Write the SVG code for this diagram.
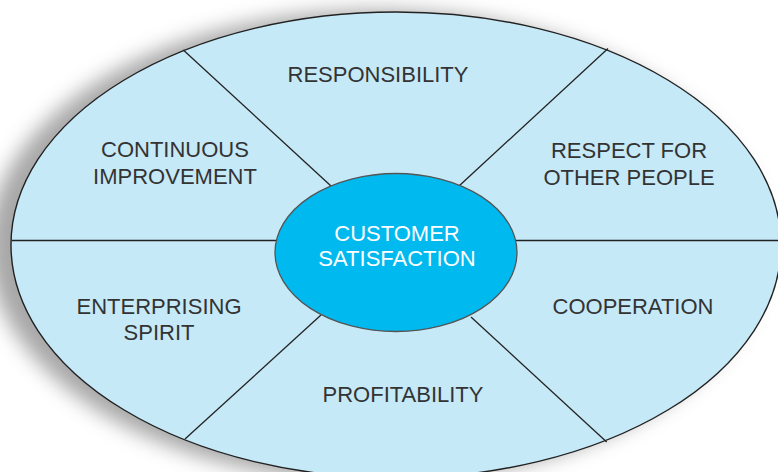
<svg xmlns="http://www.w3.org/2000/svg" width="778" height="472" viewBox="0 0 778 472">
  <defs>
    <filter id="shadow" x="-20%" y="-20%" width="140%" height="140%">
      <feGaussianBlur stdDeviation="10"/>
    </filter>
    <style>
      .lbl { font-family: "Liberation Sans", Arial, sans-serif; font-size: 22px; fill: #333333; text-anchor: middle; }
      .center { font-family: "Liberation Sans", Arial, sans-serif; font-size: 22px; fill: #ffffff; text-anchor: middle; }
      .conn { stroke: #222222; stroke-width: 1.3; fill: none; }
    </style>
  </defs>
  <rect x="0" y="0" width="778" height="472" fill="#ffffff"/>
  <g id="background">
    <ellipse cx="376" cy="246" rx="388" ry="236" fill="#8a8a8a" opacity="0.75" filter="url(#shadow)"/>
    <ellipse cx="396" cy="245" rx="385" ry="233" fill="#c6e9f8" stroke="#222222" stroke-width="1.4"/>
  </g>
  <g id="connectors">
    <line class="conn" x1="12" y1="240.5" x2="277" y2="240.5"/>
    <line class="conn" x1="516" y1="240.5" x2="778" y2="240.5"/>
    <line class="conn" x1="183.3" y1="50" x2="331" y2="186"/>
    <line class="conn" x1="608" y1="48.5" x2="459" y2="186"/>
    <line class="conn" x1="185" y1="439" x2="321" y2="315"/>
    <line class="conn" x1="606.7" y1="442" x2="471" y2="317"/>
  </g>
  <g id="customer-satisfaction">
    <ellipse cx="396" cy="252.5" rx="121" ry="79" fill="#00b9ef" stroke="#555555" stroke-width="1.3"/>
    <text class="center" x="397" y="241">CUSTOMER</text>
    <text class="center" x="397" y="266">SATISFACTION</text>
  </g>
  <g id="responsibility">
    <text class="lbl" x="378" y="82">RESPONSIBILITY</text>
  </g>
  <g id="continuous-improvement">
    <text class="lbl" x="175" y="157">CONTINUOUS</text>
    <text class="lbl" x="175" y="184">IMPROVEMENT</text>
  </g>
  <g id="respect-for-other-people">
    <text class="lbl" x="629" y="158">RESPECT FOR</text>
    <text class="lbl" x="629" y="185">OTHER PEOPLE</text>
  </g>
  <g id="enterprising-spirit">
    <text class="lbl" x="159" y="314">ENTERPRISING</text>
    <text class="lbl" x="159" y="340">SPIRIT</text>
  </g>
  <g id="cooperation">
    <text class="lbl" x="633" y="314">COOPERATION</text>
  </g>
  <g id="profitability">
    <text class="lbl" x="403" y="402">PROFITABILITY</text>
  </g>
</svg>
